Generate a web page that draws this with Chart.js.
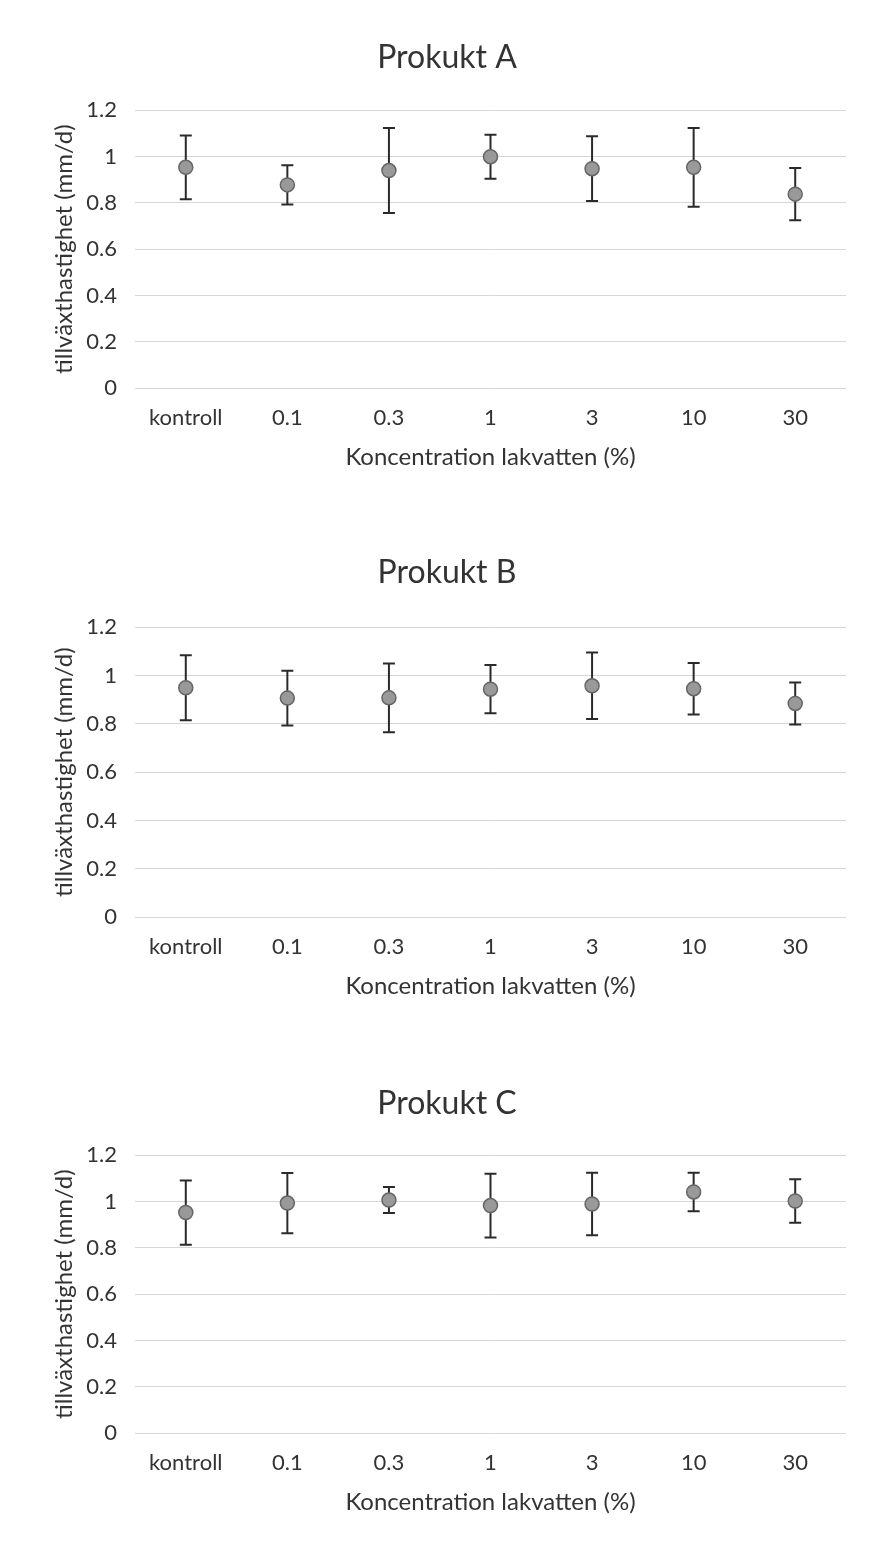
<!DOCTYPE html>
<html>
<head>
<meta charset="utf-8">
<script src="https://cdn.jsdelivr.net/npm/chart.js@4"></script>
<style>
  body { margin: 0; background: #fff; }
  .panel { position: absolute; left: 0; }
</style>
</head>
<body>
<div class="panel" style="top:0"><canvas id="graf-a" width="870" height="500"></canvas></div>
<div class="panel" style="top:500px"><canvas id="graf-b" width="870" height="520"></canvas></div>
<div class="panel" style="top:1020px"><canvas id="graf-c" width="870" height="526"></canvas></div>
<script>
const koncentrationer = ["kontroll", "0.1", "0.3", "1", "3", "10", "30"];
const yTicks = [0, 0.2, 0.4, 0.6, 0.8, 1, 1.2];

const medelA = [0.954, 0.878, 0.940, 1.000, 0.948, 0.954, 0.838];
const felA   = [0.138, 0.085, 0.184, 0.095, 0.140, 0.170, 0.113];

const medelB = [0.950, 0.907, 0.908, 0.944, 0.958, 0.946, 0.885];
const felB   = [0.135, 0.113, 0.142, 0.100, 0.138, 0.107, 0.087];

const medelC = [0.953, 0.994, 1.007, 0.983, 0.990, 1.042, 1.003];
const felC   = [0.139, 0.130, 0.056, 0.138, 0.135, 0.083, 0.094];

const textFarg = "#333";
const typsnitt = "Lato, 'Open Sans', sans-serif";

// ritar felstaplar med skalans egna pixelvärden
const felstaplar = {
  id: "felstaplar",
  beforeDatasetsDraw(chart) {
    const ctx = chart.ctx;
    const y = chart.scales.y;
    chart.data.datasets.forEach((ds, di) => {
      const meta = chart.getDatasetMeta(di);
      meta.data.forEach((pt, i) => {
        const m = ds.data[i];
        const e = ds.fel[i];
        const yTop = y.getPixelForValue(m + e);
        const yBot = y.getPixelForValue(m - e);
        ctx.save();
        ctx.strokeStyle = "#2a2a2a";
        ctx.lineWidth = 2;
        ctx.beginPath();
        ctx.moveTo(pt.x, yTop);
        ctx.lineTo(pt.x, yBot);
        ctx.moveTo(pt.x - 6, yTop);
        ctx.lineTo(pt.x + 6, yTop);
        ctx.moveTo(pt.x - 6, yBot);
        ctx.lineTo(pt.x + 6, yBot);
        ctx.stroke();
        ctx.restore();
      });
    });
  }
};

function ritaGraf(id, titel, medel, fel, titelTopp, titelBotten, paddBotten) {
  const ctx = document.getElementById(id).getContext("2d");
  return new Chart(ctx, {
    type: "line",
    data: {
      labels: koncentrationer,
      datasets: [{
        data: medel,
        fel: fel,
        showLine: false,
        pointRadius: 7,
        pointHoverRadius: 7,
        pointBackgroundColor: "#999",
        pointBorderColor: "#666",
        pointBorderWidth: 1.5
      }]
    },
    options: {
      responsive: false,
      animation: false,
      // vänster padding 48 så att rubriken hamnar lite till höger som i originalet
      layout: { padding: { left: 48, right: 24, top: 0, bottom: paddBotten } },
      plugins: {
        legend: { display: false },
        tooltip: { enabled: false },
        title: {
          display: true,
          text: titel,
          color: textFarg,
          font: { family: typsnitt, size: 32, weight: "normal" },
          padding: { top: titelTopp, bottom: titelBotten }
        }
      },
      scales: {
        x: {
          type: "category",
          offset: true,
          grid: { display: false, drawTicks: false },
          border: { display: false },
          ticks: { color: textFarg, padding: 17, font: { family: typsnitt, size: 22 } },
          title: {
            display: true,
            text: "Koncentration lakvatten (%)",
            color: textFarg,
            font: { family: typsnitt, size: 24 },
            padding: { top: 0, bottom: 6 }
          },
          afterFit(s) { s.height = 90; }
        },
        y: {
          min: 0,
          max: 1.2,
          afterBuildTicks(s) { s.ticks = yTicks.map(v => ({ value: v })); },
          grid: { color: "#d6d6d6", drawTicks: false },
          border: { display: false },
          ticks: {
            color: textFarg,
            padding: 18,
            font: { family: typsnitt, size: 22 },
            callback: v => String(v)
          },
          title: {
            display: true,
            text: "tillväxthastighet (mm/d)",
            color: textFarg,
            font: { family: typsnitt, size: 24 },
            padding: { top: 2, bottom: 0 }
          },
          afterFit(s) { s.width = 87; }
        }
      }
    },
    plugins: [felstaplar]
  });
}

// plotytor: A 110-388, B 127-417, C 135-413 (relativt respektive canvas)
ritaGraf("graf-a", "Prokukt A", medelA, felA, 38, 34, 500 - 388 - 90);
ritaGraf("graf-b", "Prokukt B", medelB, felB, 53, 36, 520 - 417 - 90);
ritaGraf("graf-c", "Prokukt C", medelC, felC, 64, 33, 526 - 413 - 90);
</script>
</body>
</html>
